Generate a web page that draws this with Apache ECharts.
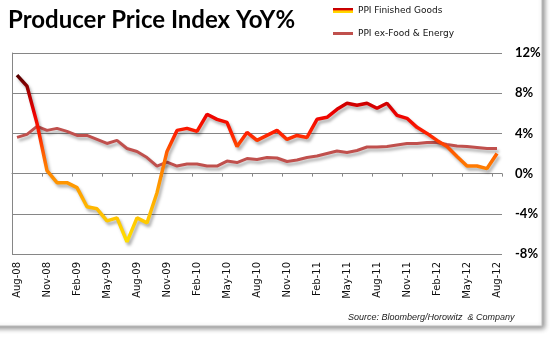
<!DOCTYPE html>
<html>
<head>
<meta charset="utf-8">
<script src="https://cdn.jsdelivr.net/npm/echarts@6/dist/echarts.min.js"></script>
<style>
html,body{margin:0;padding:0;background:#fff;}
#chart{width:551px;height:338px;}
</style>
</head>
<body>
<div id="chart"></div>
<script>
var categories = ['Aug-08','Sep-08','Oct-08','Nov-08','Dec-08',
  'Jan-09','Feb-09','Mar-09','Apr-09','May-09','Jun-09','Jul-09','Aug-09','Sep-09','Oct-09','Nov-09','Dec-09',
  'Jan-10','Feb-10','Mar-10','Apr-10','May-10','Jun-10','Jul-10','Aug-10','Sep-10','Oct-10','Nov-10','Dec-10',
  'Jan-11','Feb-11','Mar-11','Apr-11','May-11','Jun-11','Jul-11','Aug-11','Sep-11','Oct-11','Nov-11','Dec-11',
  'Jan-12','Feb-12','Mar-12','Apr-12','May-12','Jun-12','Jul-12','Aug-12'];

var finishedGoods = [9.8, 8.7, 5.0, 0.3, -0.9,
  -0.9, -1.4, -3.3, -3.5, -4.7, -4.4, -6.8, -4.4, -4.9, -1.9, 2.2, 4.3,
  4.5, 4.2, 5.9, 5.4, 5.1, 2.7, 4.1, 3.3, 3.8, 4.3, 3.4, 3.8,
  3.6, 5.4, 5.6, 6.4, 7.0, 6.8, 7.0, 6.5, 7.0, 5.8, 5.5, 4.6,
  4.0, 3.3, 2.7, 1.7, 0.75, 0.75, 0.5, 2.0];

var exFoodEnergy = [3.6, 3.9, 4.7, 4.3, 4.5,
  4.2, 3.8, 3.8, 3.4, 3.0, 3.3, 2.5, 2.2, 1.6, 0.75, 1.15, 0.75,
  0.95, 0.95, 0.75, 0.75, 1.25, 1.1, 1.5, 1.4, 1.6, 1.55, 1.2, 1.35,
  1.6, 1.75, 2.0, 2.25, 2.1, 2.3, 2.65, 2.65, 2.7, 2.85, 3.0, 3.0,
  3.1, 3.1, 2.9, 2.75, 2.7, 2.6, 2.5, 2.5];

var seriesNames = ['PPI Finished Goods', 'PPI ex-Food & Energy'];
var yTicks = {min: -8, max: 12, interval: 4};
var titleText = 'Producer Price Index YoY%';
var sourceText = 'Source: Bloomberg/Horowitz  & Company';

var chart = echarts.init(document.getElementById('chart'), null, {renderer: 'canvas'});
var gridColor = '#868686';
var coreColor = '#C0504D';

var option = {
  backgroundColor: '#fff',
  animation: false,
  graphic: [
    {type: 'rect', z: -10, silent: true,
     shape: {x: -10, y: -10, width: 552, height: 336},
     style: {fill: '#fff', stroke: '#bdbdbd', lineWidth: 1,
             shadowBlur: 5, shadowOffsetX: 2, shadowOffsetY: 2, shadowColor: 'rgba(0,0,0,0.45)'}},
    {type: 'text', left: 348, top: 313, z: 10,
     style: {text: sourceText, fontFamily: 'Liberation Sans', fontStyle: 'italic', fontSize: 9, fill: '#222'}}
  ],
  title: {
    text: titleText, left: 8, top: 8, padding: 0,
    textStyle: {fontFamily: 'Lato', fontWeight: 'bold', fontSize: 24, color: '#000'}
  },
  legend: {
    orient: 'vertical', left: 328, top: 1, itemWidth: 20, itemHeight: 5, itemGap: 14,
    textStyle: {fontFamily: 'DejaVu Sans', fontSize: 9, color: '#111'},
    data: [
      {name: seriesNames[0], icon: 'rect',
       itemStyle: {color: new echarts.graphic.LinearGradient(0, 0, 0, 1, [
         {offset: 0, color: '#c00000'}, {offset: 0.33, color: '#d00000'},
         {offset: 0.34, color: '#ff7000'}, {offset: 0.66, color: '#ff9000'},
         {offset: 0.67, color: '#ffd000'}, {offset: 1, color: '#ffe000'}])}},
      {name: seriesNames[1], icon: 'rect',
       itemStyle: {color: new echarts.graphic.LinearGradient(0, 0, 0, 1, [
         {offset: 0, color: 'rgba(255,255,255,0)'}, {offset: 0.2, color: 'rgba(255,255,255,0)'},
         {offset: 0.2, color: coreColor}, {offset: 0.8, color: coreColor},
         {offset: 0.8, color: 'rgba(255,255,255,0)'}, {offset: 1, color: 'rgba(255,255,255,0)'}])}}
    ]
  },
  visualMap: {
    type: 'continuous', show: false, seriesIndex: 1, dimension: 1,
    min: -8, max: 10,
    inRange: {color: ['#ffe800', '#ffd800', '#ffc000', '#ffa500', '#ff8800',
                      '#ff6000', '#ff2000', '#ec0000', '#b00000', '#4a0000']}
  },
  grid: {left: 12, right: 49, top: 53, bottom: 84, containLabel: false},
  xAxis: [
    {type: 'category', data: categories, boundaryGap: true, position: 'bottom',
     axisLine: {show: false, onZero: false}, axisTick: {show: false}, splitLine: {show: false},
     axisLabel: {interval: 2, rotate: 90, margin: 8, fontFamily: 'DejaVu Sans', fontSize: 10, color: '#111'}},
    {type: 'category', data: categories, boundaryGap: true, position: 'bottom',
     axisLine: {show: true, onZero: true, lineStyle: {color: gridColor, width: 1}},
     axisTick: {show: true, interval: 2, length: 3, lineStyle: {color: gridColor}},
     axisLabel: {show: false}, splitLine: {show: false}}
  ],
  yAxis: [
    {type: 'value', position: 'right', min: yTicks.min, max: yTicks.max, interval: yTicks.interval,
     axisLine: {show: false}, axisTick: {show: false},
     splitLine: {show: true, lineStyle: {color: gridColor, width: 1}},
     axisLabel: {formatter: '{value}%', align: 'left', margin: 13,
                 fontFamily: 'Lato', fontWeight: 'bold', fontSize: 13, color: '#000'}},
    {type: 'value', position: 'left', min: yTicks.min, max: yTicks.max, interval: yTicks.interval,
     axisLine: {show: true, onZero: false, lineStyle: {color: gridColor, width: 1}},
     axisTick: {show: false}, axisLabel: {show: false}, splitLine: {show: false}}
  ],
  series: [
    {name: seriesNames[1], type: 'line', data: exFoodEnergy, xAxisIndex: 0, yAxisIndex: 0,
     showSymbol: false, symbol: 'none', z: 2,
     itemStyle: {color: coreColor},
     lineStyle: {color: coreColor, width: 3,
                 shadowColor: 'rgba(0,0,0,0.3)', shadowBlur: 3, shadowOffsetX: 2, shadowOffsetY: 3}},
    {name: seriesNames[0], type: 'line', data: finishedGoods, xAxisIndex: 0, yAxisIndex: 0,
     showSymbol: false, symbol: 'none', z: 3,
     lineStyle: {width: 3.5,
                 shadowColor: 'rgba(0,0,0,0.3)', shadowBlur: 3, shadowOffsetX: 2, shadowOffsetY: 3}}
  ]
};
chart.setOption(option);
</script>
</body>
</html>
